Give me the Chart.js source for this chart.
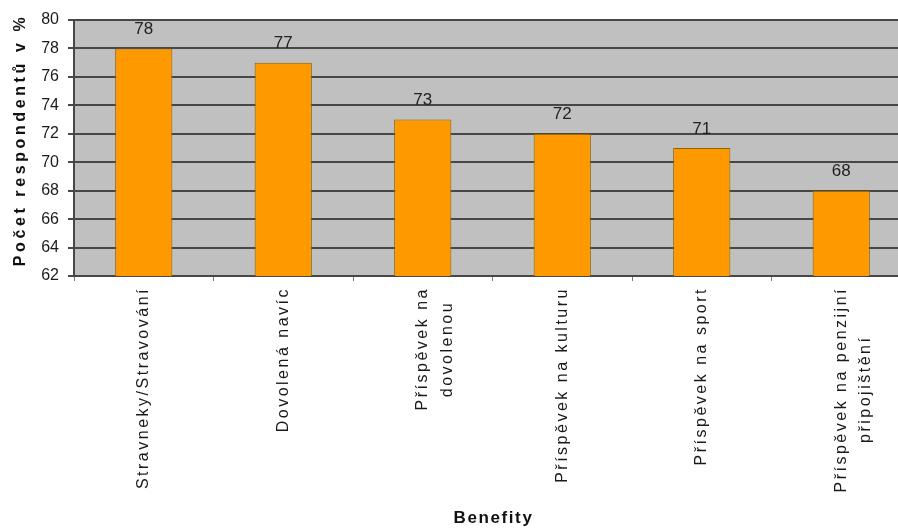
<!DOCTYPE html>
<html>
<head>
<meta charset="utf-8">
<title>Benefity</title>
<script src="https://cdn.jsdelivr.net/npm/chart.js@4.4.1/dist/chart.umd.min.js"></script>
<style>
    html, body {
        margin: 0;
        padding: 0;
        background: #fff;
        overflow: hidden;
    }
</style>
</head>
<body>
<!-- plot runs a little past the right edge, like the cropped original -->
<canvas id="benefity" width="911" height="530"></canvas>
<script>
const categories = [
    "Stravneky/Stravování",
    "Dovolená navíc",
    ["Příspěvek na", "dovolenou"],
    "Příspěvek na kulturu",
    "Příspěvek na sport",
    ["Příspěvek na penzijní", "připojištění"],
];
const values = [78, 77, 73, 72, 71, 68];
const yMin = 62;
const yMax = 80;
const yStep = 2;
const xTitle = "Benefity";
const yTitle = "Počet respondentů v %";

const fontFamily = '"Liberation Sans", Arial, sans-serif';
Chart.defaults.font.family = fontFamily;
Chart.defaults.color = "#222";

const gridColor = "#474747";
const labelSpacing = "2.5px";

// rotated multi-line labels: pad the shorter line so lines sit centred on each other
const measureCtx = document.createElement("canvas").getContext("2d");
measureCtx.font = "16px " + fontFamily;
measureCtx.letterSpacing = labelSpacing;
function centerLines(label) {
    if (!Array.isArray(label)) return label;
    const widths = label.map((t) => measureCtx.measureText(t).width);
    const widest = Math.max(...widths);
    const space = measureCtx.measureText(" ").width;
    return label.map(
        (t, i) => t + " ".repeat(Math.round((widest - widths[i]) / 2 / space))
    );
}

// background, value labels, axis titles and letter spacing of the excel-like text
const excelLook = {
    id: "excelLook",
    beforeDraw(chart) {
        const { ctx, chartArea: a } = chart;
        ctx.save();
        ctx.fillStyle = "#fff";
        ctx.fillRect(0, 0, chart.width, chart.height);
        ctx.fillStyle = "#c0c0c0";
        ctx.fillRect(a.left, a.top, a.right - a.left, a.bottom - a.top);
        ctx.restore();
        ctx.letterSpacing = "0px";
    },
    afterDatasetsDraw(chart) {
        const ctx = chart.ctx;
        const meta = chart.getDatasetMeta(0);
        ctx.save();
        ctx.font = "17px " + fontFamily;
        ctx.fillStyle = "#222";
        ctx.textAlign = "center";
        ctx.textBaseline = "middle";
        meta.data.forEach((bar, i) => {
            ctx.fillText(String(values[i]), bar.x, bar.y - 19);
        });
        ctx.restore();
        // x tick labels (z: 1) are drawn next
        ctx.letterSpacing = labelSpacing;
    },
    afterDraw(chart) {
        const { ctx, chartArea: a } = chart;
        ctx.save();
        ctx.fillStyle = "#111";
        ctx.textAlign = "center";
        ctx.textBaseline = "middle";

        ctx.font = "bold 17px " + fontFamily;
        ctx.letterSpacing = "1.6px";
        ctx.fillText(xTitle, (a.left + a.right) / 2 + 1, 518);

        ctx.font = "bold 16px " + fontFamily;
        ctx.letterSpacing = "3.6px";
        ctx.translate(21, 140);
        ctx.rotate(-Math.PI / 2);
        ctx.fillText(yTitle, 0, 0);
        ctx.restore();
        ctx.letterSpacing = "0px";
    },
};

const ctx = document.getElementById("benefity");

new Chart(ctx, {
    type: "bar",
    data: {
        labels: categories,
        datasets: [
            {
                data: values,
                backgroundColor: "#ff9900",
                borderColor: "#8f6200",
                borderWidth: 1,
                borderSkipped: false,
                barPercentage: 0.41,
                categoryPercentage: 1,
            },
        ],
    },
    options: {
        responsive: false,
        animation: false,
        layout: {
            padding: {
                top: 20,
                left: 0,
                right: 0,
                bottom: 0,
            },
        },
        scales: {
            x: {
                grid: {
                    display: true,
                    drawOnChartArea: false,
                    drawTicks: true,
                    tickLength: 5,
                    color: "#777",
                },
                border: {
                    display: true,
                    color: gridColor,
                    width: 2,
                },
                ticks: {
                    z: 1,
                    minRotation: 90,
                    maxRotation: 90,
                    autoSkip: false,
                    padding: 6,
                    color: "#1a1a1a",
                    font: {
                        size: 16,
                        lineHeight: 1.55,
                    },
                    labelOffset: (c) =>
                        Array.isArray(categories[c.index]) ? -12 : 0,
                    callback: (value, index) => centerLines(categories[index]),
                },
                afterFit: (scale) => {
                    scale.height = 254;
                },
            },
            y: {
                min: yMin,
                max: yMax,
                grid: {
                    color: gridColor,
                    lineWidth: 2,
                    tickLength: 6,
                },
                border: {
                    display: true,
                    color: gridColor,
                    width: 2,
                },
                ticks: {
                    stepSize: yStep,
                    padding: 9,
                    color: "#1a1a1a",
                    font: {
                        size: 16,
                    },
                },
                afterFit: (scale) => {
                    scale.width = 74;
                },
            },
        },
        plugins: {
            legend: {
                display: false,
            },
            tooltip: {
                enabled: false,
            },
        },
    },
    plugins: [excelLook],
});
</script>
</body>
</html>
